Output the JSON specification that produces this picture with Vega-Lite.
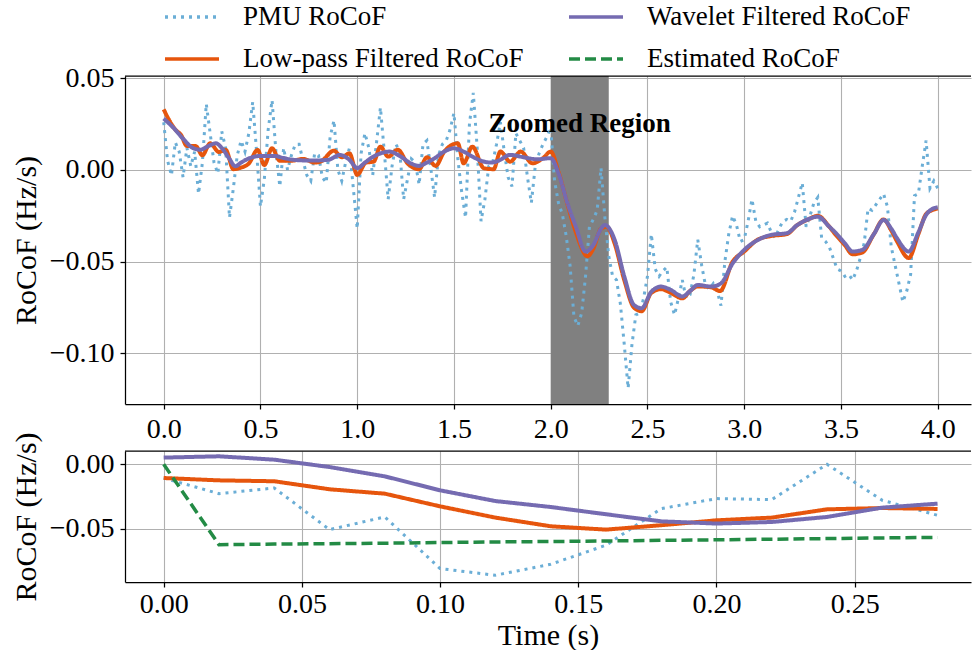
{
  "$schema": "https://vega.github.io/schema/vega-lite/v6.json",
  "padding": {"left": 11, "top": -12, "right": 0, "bottom": 0},
  "bounds": "flush",
  "spacing": 47,
  "datasets": {
    "span": [{"t": 2.0, "t2": 2.3, "v": 0.0512, "v2": -0.1276}],
    "topborder": [{"t": -0.2, "t2": 4.172, "v": 0.0512}],
    "note": [{"t": 2.15, "v": 0.025, "label": "Zoomed Region"}],
    "botborder": [{"t": -0.014, "t2": 0.2921, "v": 0.0103}],
    "pmu_top": [
      {"t":0.00,"PMU RoCoF":0.026},{"t":0.02,"PMU RoCoF":0.005},{"t":0.04,"PMU RoCoF":-0.003},{"t":0.06,"PMU RoCoF":0.015},{"t":0.08,"PMU RoCoF":0.010},
      {"t":0.10,"PMU RoCoF":-0.004},{"t":0.12,"PMU RoCoF":0.012},{"t":0.14,"PMU RoCoF":0.002},{"t":0.16,"PMU RoCoF":0.010},{"t":0.18,"PMU RoCoF":-0.013},
      {"t":0.20,"PMU RoCoF":0.004},{"t":0.22,"PMU RoCoF":0.036},{"t":0.24,"PMU RoCoF":0.020},{"t":0.26,"PMU RoCoF":0.004},{"t":0.28,"PMU RoCoF":-0.002},
      {"t":0.30,"PMU RoCoF":0.021},{"t":0.32,"PMU RoCoF":0.012},{"t":0.34,"PMU RoCoF":-0.026},{"t":0.36,"PMU RoCoF":-0.010},{"t":0.38,"PMU RoCoF":0.008},
      {"t":0.40,"PMU RoCoF":0.016},{"t":0.42,"PMU RoCoF":0.010},{"t":0.44,"PMU RoCoF":0.020},{"t":0.46,"PMU RoCoF":0.037},{"t":0.48,"PMU RoCoF":0.010},
      {"t":0.50,"PMU RoCoF":-0.020},{"t":0.52,"PMU RoCoF":-0.005},{"t":0.54,"PMU RoCoF":0.022},{"t":0.56,"PMU RoCoF":0.038},{"t":0.58,"PMU RoCoF":0.010},
      {"t":0.60,"PMU RoCoF":-0.009},{"t":0.62,"PMU RoCoF":0.012},{"t":0.64,"PMU RoCoF":0.000},{"t":0.66,"PMU RoCoF":0.008},{"t":0.68,"PMU RoCoF":0.014},
      {"t":0.70,"PMU RoCoF":0.014},{"t":0.72,"PMU RoCoF":0.005},{"t":0.74,"PMU RoCoF":-0.003},{"t":0.76,"PMU RoCoF":-0.006},{"t":0.78,"PMU RoCoF":0.009},
      {"t":0.80,"PMU RoCoF":0.008},{"t":0.82,"PMU RoCoF":-0.004},{"t":0.84,"PMU RoCoF":-0.007},{"t":0.86,"PMU RoCoF":0.018},{"t":0.88,"PMU RoCoF":0.027},
      {"t":0.90,"PMU RoCoF":0.000},{"t":0.92,"PMU RoCoF":-0.006},{"t":0.94,"PMU RoCoF":0.004},{"t":0.96,"PMU RoCoF":0.012},{"t":0.98,"PMU RoCoF":-0.010},
      {"t":1.00,"PMU RoCoF":-0.032},{"t":1.02,"PMU RoCoF":0.009},{"t":1.04,"PMU RoCoF":0.020},{"t":1.06,"PMU RoCoF":0.012},{"t":1.08,"PMU RoCoF":-0.003},
      {"t":1.10,"PMU RoCoF":0.015},{"t":1.12,"PMU RoCoF":0.034},{"t":1.14,"PMU RoCoF":0.010},{"t":1.16,"PMU RoCoF":-0.016},{"t":1.18,"PMU RoCoF":0.002},
      {"t":1.20,"PMU RoCoF":0.014},{"t":1.22,"PMU RoCoF":0.010},{"t":1.24,"PMU RoCoF":-0.016},{"t":1.26,"PMU RoCoF":-0.005},{"t":1.28,"PMU RoCoF":0.006},
      {"t":1.30,"PMU RoCoF":0.004},{"t":1.32,"PMU RoCoF":-0.008},{"t":1.34,"PMU RoCoF":0.014},{"t":1.36,"PMU RoCoF":0.016},{"t":1.38,"PMU RoCoF":0.001},
      {"t":1.40,"PMU RoCoF":-0.015},{"t":1.42,"PMU RoCoF":0.008},{"t":1.44,"PMU RoCoF":0.014},{"t":1.46,"PMU RoCoF":0.016},{"t":1.48,"PMU RoCoF":0.022},
      {"t":1.50,"PMU RoCoF":0.031},{"t":1.52,"PMU RoCoF":0.006},{"t":1.54,"PMU RoCoF":-0.012},{"t":1.56,"PMU RoCoF":-0.026},{"t":1.58,"PMU RoCoF":0.025},
      {"t":1.60,"PMU RoCoF":0.042},{"t":1.62,"PMU RoCoF":0.012},{"t":1.64,"PMU RoCoF":-0.028},{"t":1.66,"PMU RoCoF":-0.016},{"t":1.68,"PMU RoCoF":0.002},
      {"t":1.70,"PMU RoCoF":0.004},{"t":1.72,"PMU RoCoF":0.014},{"t":1.74,"PMU RoCoF":0.026},{"t":1.76,"PMU RoCoF":0.010},{"t":1.78,"PMU RoCoF":-0.004},
      {"t":1.80,"PMU RoCoF":-0.009},{"t":1.82,"PMU RoCoF":0.020},{"t":1.84,"PMU RoCoF":0.016},{"t":1.86,"PMU RoCoF":0.012},{"t":1.88,"PMU RoCoF":-0.004},
      {"t":1.90,"PMU RoCoF":-0.018},{"t":1.92,"PMU RoCoF":0.002},{"t":1.94,"PMU RoCoF":0.009},{"t":1.96,"PMU RoCoF":0.014},{"t":1.98,"PMU RoCoF":0.018},
      {"t":2.00,"PMU RoCoF":0.023},{"t":2.02,"PMU RoCoF":-0.006},{"t":2.04,"PMU RoCoF":-0.018},{"t":2.06,"PMU RoCoF":-0.024},{"t":2.08,"PMU RoCoF":-0.036},
      {"t":2.10,"PMU RoCoF":-0.052},{"t":2.12,"PMU RoCoF":-0.080},{"t":2.14,"PMU RoCoF":-0.085},{"t":2.16,"PMU RoCoF":-0.078},{"t":2.18,"PMU RoCoF":-0.058},
      {"t":2.20,"PMU RoCoF":-0.031},{"t":2.22,"PMU RoCoF":-0.027},{"t":2.24,"PMU RoCoF":-0.022},{"t":2.26,"PMU RoCoF":0.001},{"t":2.28,"PMU RoCoF":-0.026},
      {"t":2.30,"PMU RoCoF":-0.047},{"t":2.32,"PMU RoCoF":-0.058},{"t":2.34,"PMU RoCoF":-0.060},{"t":2.36,"PMU RoCoF":-0.073},{"t":2.38,"PMU RoCoF":-0.095},
      {"t":2.40,"PMU RoCoF":-0.119},{"t":2.42,"PMU RoCoF":-0.095},{"t":2.44,"PMU RoCoF":-0.079},{"t":2.46,"PMU RoCoF":-0.078},{"t":2.48,"PMU RoCoF":-0.070},
      {"t":2.50,"PMU RoCoF":-0.058},{"t":2.52,"PMU RoCoF":-0.035},{"t":2.54,"PMU RoCoF":-0.054},{"t":2.56,"PMU RoCoF":-0.058},{"t":2.58,"PMU RoCoF":-0.055},
      {"t":2.60,"PMU RoCoF":-0.053},{"t":2.62,"PMU RoCoF":-0.072},{"t":2.64,"PMU RoCoF":-0.079},{"t":2.66,"PMU RoCoF":-0.070},{"t":2.68,"PMU RoCoF":-0.060},
      {"t":2.70,"PMU RoCoF":-0.070},{"t":2.72,"PMU RoCoF":-0.068},{"t":2.74,"PMU RoCoF":-0.057},{"t":2.76,"PMU RoCoF":-0.038},{"t":2.78,"PMU RoCoF":-0.052},
      {"t":2.80,"PMU RoCoF":-0.063},{"t":2.82,"PMU RoCoF":-0.065},{"t":2.84,"PMU RoCoF":-0.062},{"t":2.86,"PMU RoCoF":-0.066},{"t":2.88,"PMU RoCoF":-0.074},
      {"t":2.90,"PMU RoCoF":-0.050},{"t":2.92,"PMU RoCoF":-0.035},{"t":2.94,"PMU RoCoF":-0.025},{"t":2.96,"PMU RoCoF":-0.030},{"t":2.98,"PMU RoCoF":-0.039},
      {"t":3.00,"PMU RoCoF":-0.038},{"t":3.02,"PMU RoCoF":-0.028},{"t":3.04,"PMU RoCoF":-0.016},{"t":3.06,"PMU RoCoF":-0.028},{"t":3.08,"PMU RoCoF":-0.031},
      {"t":3.10,"PMU RoCoF":-0.030},{"t":3.12,"PMU RoCoF":-0.029},{"t":3.14,"PMU RoCoF":-0.034},{"t":3.16,"PMU RoCoF":-0.037},{"t":3.18,"PMU RoCoF":-0.032},
      {"t":3.20,"PMU RoCoF":-0.028},{"t":3.22,"PMU RoCoF":-0.027},{"t":3.24,"PMU RoCoF":-0.028},{"t":3.26,"PMU RoCoF":-0.023},{"t":3.28,"PMU RoCoF":-0.015},
      {"t":3.30,"PMU RoCoF":-0.007},{"t":3.32,"PMU RoCoF":-0.031},{"t":3.34,"PMU RoCoF":-0.025},{"t":3.36,"PMU RoCoF":-0.018},{"t":3.38,"PMU RoCoF":-0.015},
      {"t":3.40,"PMU RoCoF":-0.037},{"t":3.42,"PMU RoCoF":-0.039},{"t":3.44,"PMU RoCoF":-0.042},{"t":3.46,"PMU RoCoF":-0.048},{"t":3.48,"PMU RoCoF":-0.054},
      {"t":3.50,"PMU RoCoF":-0.055},{"t":3.52,"PMU RoCoF":-0.058},{"t":3.54,"PMU RoCoF":-0.057},{"t":3.56,"PMU RoCoF":-0.060},{"t":3.58,"PMU RoCoF":-0.055},
      {"t":3.60,"PMU RoCoF":-0.048},{"t":3.62,"PMU RoCoF":-0.040},{"t":3.64,"PMU RoCoF":-0.021},{"t":3.66,"PMU RoCoF":-0.022},{"t":3.68,"PMU RoCoF":-0.019},
      {"t":3.70,"PMU RoCoF":-0.016},{"t":3.72,"PMU RoCoF":-0.013},{"t":3.74,"PMU RoCoF":-0.020},{"t":3.76,"PMU RoCoF":-0.042},{"t":3.78,"PMU RoCoF":-0.052},
      {"t":3.80,"PMU RoCoF":-0.062},{"t":3.82,"PMU RoCoF":-0.072},{"t":3.84,"PMU RoCoF":-0.066},{"t":3.86,"PMU RoCoF":-0.057},{"t":3.88,"PMU RoCoF":-0.014},
      {"t":3.90,"PMU RoCoF":-0.013},{"t":3.92,"PMU RoCoF":0.002},{"t":3.94,"PMU RoCoF":0.016},{"t":3.96,"PMU RoCoF":-0.010},{"t":3.98,"PMU RoCoF":-0.006},
      {"t":4.00,"PMU RoCoF":-0.010}
    ],
    "lp_top": [
      {"t":0.00,"Low-pass Filtered RoCoF":0.033},{"t":0.04,"Low-pass Filtered RoCoF":0.025},{"t":0.06,"Low-pass Filtered RoCoF":0.022},{"t":0.09,"Low-pass Filtered RoCoF":0.019},
      {"t":0.12,"Low-pass Filtered RoCoF":0.013},{"t":0.165,"Low-pass Filtered RoCoF":0.013},{"t":0.20,"Low-pass Filtered RoCoF":0.008},{"t":0.24,"Low-pass Filtered RoCoF":0.0145},
      {"t":0.285,"Low-pass Filtered RoCoF":0.0098},{"t":0.32,"Low-pass Filtered RoCoF":0.011},{"t":0.36,"Low-pass Filtered RoCoF":0.0004},{"t":0.39,"Low-pass Filtered RoCoF":0.001},
      {"t":0.44,"Low-pass Filtered RoCoF":0.0035},{"t":0.485,"Low-pass Filtered RoCoF":0.0109},{"t":0.52,"Low-pass Filtered RoCoF":0.0027},{"t":0.56,"Low-pass Filtered RoCoF":0.0118},
      {"t":0.60,"Low-pass Filtered RoCoF":0.005},{"t":0.66,"Low-pass Filtered RoCoF":0.005},{"t":0.72,"Low-pass Filtered RoCoF":0.006},{"t":0.78,"Low-pass Filtered RoCoF":0.004},
      {"t":0.81,"Low-pass Filtered RoCoF":0.0045},{"t":0.88,"Low-pass Filtered RoCoF":0.0105},{"t":0.92,"Low-pass Filtered RoCoF":0.0069},{"t":0.96,"Low-pass Filtered RoCoF":0.009},
      {"t":1.00,"Low-pass Filtered RoCoF":-0.0027},{"t":1.045,"Low-pass Filtered RoCoF":0.004},{"t":1.085,"Low-pass Filtered RoCoF":0.0045},{"t":1.12,"Low-pass Filtered RoCoF":0.0127},
      {"t":1.16,"Low-pass Filtered RoCoF":0.0073},{"t":1.21,"Low-pass Filtered RoCoF":0.011},{"t":1.26,"Low-pass Filtered RoCoF":0.0036},{"t":1.32,"Low-pass Filtered RoCoF":0.0004},
      {"t":1.36,"Low-pass Filtered RoCoF":0.0069},{"t":1.405,"Low-pass Filtered RoCoF":0.0022},{"t":1.45,"Low-pass Filtered RoCoF":0.010},{"t":1.52,"Low-pass Filtered RoCoF":0.0145},
      {"t":1.55,"Low-pass Filtered RoCoF":0.0036},{"t":1.595,"Low-pass Filtered RoCoF":0.0127},{"t":1.655,"Low-pass Filtered RoCoF":0.0009},{"t":1.705,"Low-pass Filtered RoCoF":0.0004},
      {"t":1.74,"Low-pass Filtered RoCoF":0.010},{"t":1.79,"Low-pass Filtered RoCoF":0.0045},{"t":1.845,"Low-pass Filtered RoCoF":0.010},{"t":1.905,"Low-pass Filtered RoCoF":0.0036},
      {"t":1.96,"Low-pass Filtered RoCoF":0.0064},{"t":2.00,"Low-pass Filtered RoCoF":0.010},{"t":2.04,"Low-pass Filtered RoCoF":-0.001},{"t":2.09,"Low-pass Filtered RoCoF":-0.020},
      {"t":2.13,"Low-pass Filtered RoCoF":-0.034},{"t":2.19,"Low-pass Filtered RoCoF":-0.047},{"t":2.22,"Low-pass Filtered RoCoF":-0.043},{"t":2.26,"Low-pass Filtered RoCoF":-0.032},
      {"t":2.29,"Low-pass Filtered RoCoF":-0.031},{"t":2.33,"Low-pass Filtered RoCoF":-0.040},{"t":2.38,"Low-pass Filtered RoCoF":-0.060},{"t":2.43,"Low-pass Filtered RoCoF":-0.075},
      {"t":2.47,"Low-pass Filtered RoCoF":-0.077},{"t":2.52,"Low-pass Filtered RoCoF":-0.067},{"t":2.57,"Low-pass Filtered RoCoF":-0.065},{"t":2.62,"Low-pass Filtered RoCoF":-0.067},
      {"t":2.68,"Low-pass Filtered RoCoF":-0.070},{"t":2.72,"Low-pass Filtered RoCoF":-0.066},{"t":2.76,"Low-pass Filtered RoCoF":-0.0635},{"t":2.83,"Low-pass Filtered RoCoF":-0.064},
      {"t":2.875,"Low-pass Filtered RoCoF":-0.066},{"t":2.94,"Low-pass Filtered RoCoF":-0.050},{"t":3.00,"Low-pass Filtered RoCoF":-0.0445},{"t":3.07,"Low-pass Filtered RoCoF":-0.038},
      {"t":3.14,"Low-pass Filtered RoCoF":-0.036},{"t":3.22,"Low-pass Filtered RoCoF":-0.035},{"t":3.275,"Low-pass Filtered RoCoF":-0.030},{"t":3.33,"Low-pass Filtered RoCoF":-0.027},
      {"t":3.38,"Low-pass Filtered RoCoF":-0.025},{"t":3.44,"Low-pass Filtered RoCoF":-0.031},{"t":3.47,"Low-pass Filtered RoCoF":-0.035},{"t":3.52,"Low-pass Filtered RoCoF":-0.041},
      {"t":3.56,"Low-pass Filtered RoCoF":-0.046},{"t":3.61,"Low-pass Filtered RoCoF":-0.045},{"t":3.67,"Low-pass Filtered RoCoF":-0.035},{"t":3.72,"Low-pass Filtered RoCoF":-0.027},
      {"t":3.76,"Low-pass Filtered RoCoF":-0.033},{"t":3.79,"Low-pass Filtered RoCoF":-0.039},{"t":3.85,"Low-pass Filtered RoCoF":-0.048},{"t":3.90,"Low-pass Filtered RoCoF":-0.035},
      {"t":3.94,"Low-pass Filtered RoCoF":-0.024},{"t":3.97,"Low-pass Filtered RoCoF":-0.022},{"t":4.00,"Low-pass Filtered RoCoF":-0.021}
    ],
    "wv_top": [
      {"t":0.00,"Wavelet Filtered RoCoF":0.028},{"t":0.05,"Wavelet Filtered RoCoF":0.023},{"t":0.10,"Wavelet Filtered RoCoF":0.017},{"t":0.15,"Wavelet Filtered RoCoF":0.012},
      {"t":0.19,"Wavelet Filtered RoCoF":0.011},{"t":0.23,"Wavelet Filtered RoCoF":0.013},{"t":0.27,"Wavelet Filtered RoCoF":0.0145},{"t":0.30,"Wavelet Filtered RoCoF":0.012},
      {"t":0.34,"Wavelet Filtered RoCoF":0.006},{"t":0.37,"Wavelet Filtered RoCoF":0.002},{"t":0.40,"Wavelet Filtered RoCoF":0.004},{"t":0.43,"Wavelet Filtered RoCoF":0.0058},
      {"t":0.50,"Wavelet Filtered RoCoF":0.0076},{"t":0.57,"Wavelet Filtered RoCoF":0.0076},{"t":0.62,"Wavelet Filtered RoCoF":0.0065},{"t":0.67,"Wavelet Filtered RoCoF":0.0055},
      {"t":0.76,"Wavelet Filtered RoCoF":0.0051},{"t":0.85,"Wavelet Filtered RoCoF":0.0055},{"t":0.91,"Wavelet Filtered RoCoF":0.0082},{"t":0.96,"Wavelet Filtered RoCoF":0.0055},
      {"t":1.00,"Wavelet Filtered RoCoF":0.001},{"t":1.04,"Wavelet Filtered RoCoF":0.004},{"t":1.07,"Wavelet Filtered RoCoF":0.0064},{"t":1.12,"Wavelet Filtered RoCoF":0.009},
      {"t":1.165,"Wavelet Filtered RoCoF":0.010},{"t":1.225,"Wavelet Filtered RoCoF":0.0073},{"t":1.27,"Wavelet Filtered RoCoF":0.004},{"t":1.32,"Wavelet Filtered RoCoF":0.0022},
      {"t":1.36,"Wavelet Filtered RoCoF":0.004},{"t":1.40,"Wavelet Filtered RoCoF":0.0064},{"t":1.45,"Wavelet Filtered RoCoF":0.010},{"t":1.50,"Wavelet Filtered RoCoF":0.0118},
      {"t":1.55,"Wavelet Filtered RoCoF":0.010},{"t":1.59,"Wavelet Filtered RoCoF":0.0076},{"t":1.64,"Wavelet Filtered RoCoF":0.005},{"t":1.69,"Wavelet Filtered RoCoF":0.004},
      {"t":1.73,"Wavelet Filtered RoCoF":0.005},{"t":1.79,"Wavelet Filtered RoCoF":0.0082},{"t":1.86,"Wavelet Filtered RoCoF":0.0069},{"t":1.93,"Wavelet Filtered RoCoF":0.0058},
      {"t":2.00,"Wavelet Filtered RoCoF":0.0064},{"t":2.04,"Wavelet Filtered RoCoF":-0.0018},{"t":2.086,"Wavelet Filtered RoCoF":-0.018},{"t":2.13,"Wavelet Filtered RoCoF":-0.031},
      {"t":2.18,"Wavelet Filtered RoCoF":-0.0445},{"t":2.22,"Wavelet Filtered RoCoF":-0.041},{"t":2.26,"Wavelet Filtered RoCoF":-0.032},{"t":2.28,"Wavelet Filtered RoCoF":-0.030},
      {"t":2.33,"Wavelet Filtered RoCoF":-0.038},{"t":2.38,"Wavelet Filtered RoCoF":-0.058},{"t":2.43,"Wavelet Filtered RoCoF":-0.0736},{"t":2.47,"Wavelet Filtered RoCoF":-0.0754},
      {"t":2.52,"Wavelet Filtered RoCoF":-0.0664},{"t":2.57,"Wavelet Filtered RoCoF":-0.0636},{"t":2.62,"Wavelet Filtered RoCoF":-0.0654},{"t":2.68,"Wavelet Filtered RoCoF":-0.069},
      {"t":2.72,"Wavelet Filtered RoCoF":-0.066},{"t":2.76,"Wavelet Filtered RoCoF":-0.0627},{"t":2.83,"Wavelet Filtered RoCoF":-0.0636},{"t":2.88,"Wavelet Filtered RoCoF":-0.0618},
      {"t":2.94,"Wavelet Filtered RoCoF":-0.051},{"t":3.00,"Wavelet Filtered RoCoF":-0.0436},{"t":3.07,"Wavelet Filtered RoCoF":-0.0382},{"t":3.14,"Wavelet Filtered RoCoF":-0.0354},
      {"t":3.22,"Wavelet Filtered RoCoF":-0.0345},{"t":3.275,"Wavelet Filtered RoCoF":-0.030},{"t":3.33,"Wavelet Filtered RoCoF":-0.0269},{"t":3.38,"Wavelet Filtered RoCoF":-0.0255},
      {"t":3.44,"Wavelet Filtered RoCoF":-0.031},{"t":3.47,"Wavelet Filtered RoCoF":-0.034},{"t":3.52,"Wavelet Filtered RoCoF":-0.040},{"t":3.56,"Wavelet Filtered RoCoF":-0.0445},
      {"t":3.61,"Wavelet Filtered RoCoF":-0.0436},{"t":3.67,"Wavelet Filtered RoCoF":-0.035},{"t":3.72,"Wavelet Filtered RoCoF":-0.0273},{"t":3.76,"Wavelet Filtered RoCoF":-0.032},
      {"t":3.79,"Wavelet Filtered RoCoF":-0.0373},{"t":3.85,"Wavelet Filtered RoCoF":-0.0445},{"t":3.90,"Wavelet Filtered RoCoF":-0.034},{"t":3.94,"Wavelet Filtered RoCoF":-0.0245},
      {"t":3.97,"Wavelet Filtered RoCoF":-0.0214},{"t":4.00,"Wavelet Filtered RoCoF":-0.0204}
    ],
    "bot": [
      {"t":0.00,"PMU RoCoF":-0.0106,"Low-pass Filtered RoCoF":-0.0106,"Wavelet Filtered RoCoF":0.0052,"Estimated RoCoF":0.0000},
      {"t":0.02,"PMU RoCoF":-0.0227,"Low-pass Filtered RoCoF":-0.0124,"Wavelet Filtered RoCoF":0.0062,"Estimated RoCoF":-0.0621},
      {"t":0.04,"PMU RoCoF":-0.0183,"Low-pass Filtered RoCoF":-0.0131,"Wavelet Filtered RoCoF":0.0036,"Estimated RoCoF":-0.0617},
      {"t":0.06,"PMU RoCoF":-0.0505,"Low-pass Filtered RoCoF":-0.0193,"Wavelet Filtered RoCoF":-0.0021,"Estimated RoCoF":-0.0614},
      {"t":0.08,"PMU RoCoF":-0.0407,"Low-pass Filtered RoCoF":-0.0227,"Wavelet Filtered RoCoF":-0.0093,"Estimated RoCoF":-0.0610},
      {"t":0.10,"PMU RoCoF":-0.0806,"Low-pass Filtered RoCoF":-0.0325,"Wavelet Filtered RoCoF":-0.0201,"Estimated RoCoF":-0.0605},
      {"t":0.12,"PMU RoCoF":-0.0858,"Low-pass Filtered RoCoF":-0.0412,"Wavelet Filtered RoCoF":-0.0284,"Estimated RoCoF":-0.0600},
      {"t":0.14,"PMU RoCoF":-0.0773,"Low-pass Filtered RoCoF":-0.0479,"Wavelet Filtered RoCoF":-0.0330,"Estimated RoCoF":-0.0597},
      {"t":0.16,"PMU RoCoF":-0.0626,"Low-pass Filtered RoCoF":-0.0505,"Wavelet Filtered RoCoF":-0.0386,"Estimated RoCoF":-0.0593},
      {"t":0.18,"PMU RoCoF":-0.0343,"Low-pass Filtered RoCoF":-0.0471,"Wavelet Filtered RoCoF":-0.0441,"Estimated RoCoF":-0.0588},
      {"t":0.20,"PMU RoCoF":-0.0265,"Low-pass Filtered RoCoF":-0.0433,"Wavelet Filtered RoCoF":-0.0458,"Estimated RoCoF":-0.0584},
      {"t":0.22,"PMU RoCoF":-0.0273,"Low-pass Filtered RoCoF":-0.0412,"Wavelet Filtered RoCoF":-0.0446,"Estimated RoCoF":-0.0579},
      {"t":0.24,"PMU RoCoF":0.0000,"Low-pass Filtered RoCoF":-0.0348,"Wavelet Filtered RoCoF":-0.0407,"Estimated RoCoF":-0.0574},
      {"t":0.26,"PMU RoCoF":-0.0278,"Low-pass Filtered RoCoF":-0.0338,"Wavelet Filtered RoCoF":-0.0335,"Estimated RoCoF":-0.0569},
      {"t":0.28,"PMU RoCoF":-0.0394,"Low-pass Filtered RoCoF":-0.0345,"Wavelet Filtered RoCoF":-0.0304,"Estimated RoCoF":-0.0565}
    ]
  },
  "vconcat": [
    {
      "width": 846,
      "height": 328,
      "encoding": {
        "x": {"field": "t", "type": "quantitative", "scale": {"domain": [-0.2, 4.172], "nice": false, "zero": false},
              "axis": {"values": [0, 0.5, 1, 1.5, 2, 2.5, 3, 3.5, 4], "format": ".1f", "title": null, "labelPadding": 6}},
        "y": {"field": "v", "type": "quantitative", "scale": {"domain": [-0.1276, 0.0512], "nice": false, "zero": false},
              "axis": {"values": [-0.1, -0.05, 0, 0.05], "format": ".2f", "title": "RoCoF (Hz/s)"}}
      },
      "layer": [
        {"data": {"name": "span"}, "mark": {"type": "rect", "color": "#808080"}, "encoding": {"x2": {"field": "t2"}, "y2": {"field": "v2"}}},
        {"data": {"name": "topborder"}, "mark": {"type": "rule", "color": "black", "strokeWidth": 1.25}, "encoding": {"x2": {"field": "t2"}}},
        {"data": {"name": "pmu_top"}, "transform": [{"fold": ["PMU RoCoF"], "as": ["series", "v"]}],
         "mark": {"type": "line", "strokeWidth": 3},
         "encoding": {
           "color": {"field": "series", "type": "nominal", "scale": {"domain": ["PMU RoCoF", "Low-pass Filtered RoCoF", "Wavelet Filtered RoCoF", "Estimated RoCoF"], "range": ["#6baed6", "#e6550d", "#756bb1", "#238b45"]},
                     "legend": {"title": null, "orient": "none", "legendX": 38, "legendY": -88, "columns": 2, "symbolType": "stroke", "symbolSize": 2916, "symbolStrokeWidth": 3.5, "labelFontSize": 27, "labelOffset": 22, "columnPadding": 38, "rowPadding": -6, "labelLimit": 0}},
           "strokeDash": {"field": "series", "type": "nominal", "scale": {"domain": ["PMU RoCoF", "Low-pass Filtered RoCoF", "Wavelet Filtered RoCoF", "Estimated RoCoF"], "range": [[3, 5], [1, 0], [1, 0], [11, 5]]},
                     "legend": {"title": null, "orient": "none", "legendX": 38, "legendY": -88, "columns": 2, "symbolType": "stroke", "symbolSize": 2916, "symbolStrokeWidth": 3.5, "labelFontSize": 27, "labelOffset": 22, "columnPadding": 38, "rowPadding": -6, "labelLimit": 0}}
         }},
        {"data": {"name": "lp_top"}, "transform": [{"fold": ["Low-pass Filtered RoCoF"], "as": ["series", "v"]}],
         "mark": {"type": "line", "strokeWidth": 4, "interpolate": "monotone"},
         "encoding": {"color": {"field": "series", "type": "nominal"}, "strokeDash": {"field": "series", "type": "nominal"}}},
        {"data": {"name": "wv_top"}, "transform": [{"fold": ["Wavelet Filtered RoCoF"], "as": ["series", "v"]}],
         "mark": {"type": "line", "strokeWidth": 4, "interpolate": "monotone"},
         "encoding": {"color": {"field": "series", "type": "nominal"}, "strokeDash": {"field": "series", "type": "nominal"}}},
        {"data": {"name": "note"}, "mark": {"type": "text", "fontWeight": "bold", "fontSize": 27, "font": "Liberation Serif", "align": "center", "baseline": "middle", "color": "black"},
         "encoding": {"text": {"field": "label"}}}
      ]
    },
    {
      "width": 846,
      "height": 131,
      "encoding": {
        "x": {"field": "t", "type": "quantitative", "scale": {"domain": [-0.014, 0.2921], "nice": false, "zero": false},
              "axis": {"values": [0, 0.05, 0.1, 0.15, 0.2, 0.25], "format": ".2f", "title": "Time (s)", "labelPadding": 3, "titlePadding": 2}},
        "y": {"field": "v", "type": "quantitative", "scale": {"domain": [-0.091, 0.0103], "nice": false, "zero": false},
              "axis": {"values": [-0.05, 0], "format": ".2f", "title": "RoCoF (Hz/s)"}}
      },
      "layer": [
        {"data": {"name": "botborder"}, "mark": {"type": "rule", "color": "black", "strokeWidth": 1.25}, "encoding": {"x2": {"field": "t2"}}},
        {"data": {"name": "bot"}, "transform": [{"fold": ["PMU RoCoF"], "as": ["series", "v"]}],
         "mark": {"type": "line", "strokeWidth": 3},
         "encoding": {"color": {"field": "series", "type": "nominal"}, "strokeDash": {"field": "series", "type": "nominal"}}},
        {"data": {"name": "bot"}, "transform": [{"fold": ["Low-pass Filtered RoCoF"], "as": ["series", "v"]}],
         "mark": {"type": "line", "strokeWidth": 4},
         "encoding": {"color": {"field": "series", "type": "nominal"}, "strokeDash": {"field": "series", "type": "nominal"}}},
        {"data": {"name": "bot"}, "transform": [{"fold": ["Wavelet Filtered RoCoF"], "as": ["series", "v"]}],
         "mark": {"type": "line", "strokeWidth": 4},
         "encoding": {"color": {"field": "series", "type": "nominal"}, "strokeDash": {"field": "series", "type": "nominal"}}},
        {"data": {"name": "bot"}, "transform": [{"fold": ["Estimated RoCoF"], "as": ["series", "v"]}],
         "mark": {"type": "line", "strokeWidth": 3.5},
         "encoding": {"color": {"field": "series", "type": "nominal"}, "strokeDash": {"field": "series", "type": "nominal"}}}
      ]
    }
  ],
  "config": {
    "view": {"stroke": null},
    "font": "Liberation Serif",
    "axis": {"labelFont": "Liberation Serif", "titleFont": "Liberation Serif", "labelFontSize": 28, "titleFontSize": 30, "titleFontWeight": "normal",
             "labelColor": "black", "titleColor": "black", "tickColor": "black", "tickSize": 5, "tickWidth": 1.25,
             "domainColor": "black", "domainWidth": 1.25, "gridColor": "#b0b0b0", "gridWidth": 1.1, "grid": true,
             "labelPadding": 6, "titlePadding": 8, "labelOverlap": false, "labelFlush": false},
    "legend": {"labelFont": "Liberation Serif", "labelColor": "black"}
  }
}
